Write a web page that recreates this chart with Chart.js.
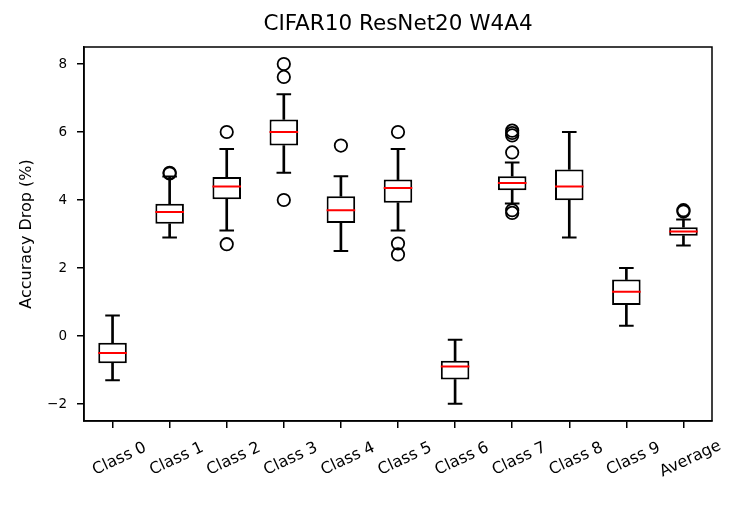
<!DOCTYPE html>
<html>
<head>
<meta charset="utf-8">
<script src="https://cdn.jsdelivr.net/npm/chart.js@4.4.1/dist/chart.umd.min.js"></script>
<style>
html,body{margin:0;padding:0;background:#fff;}
#wrap{width:748px;height:510px;}
</style>
</head>
<body>
<div id="wrap"><canvas id="c" width="748" height="510"></canvas></div>
<script>
// ---- data ----
const categories = ['Class 0','Class 1','Class 2','Class 3','Class 4','Class 5','Class 6','Class 7','Class 8','Class 9','Average'];
const whiskerLow  = [-1.30, 2.90, 3.10, 4.80, 2.50, 3.10, -1.99, 3.90, 2.90, 0.30, 2.66];
const q1          = [-0.80, 3.30, 4.02, 5.60, 3.32, 3.92, -1.28, 4.29, 3.99, 0.91, 2.95];
const median      = [-0.50, 3.65, 4.40, 6.00, 3.70, 4.35, -0.90, 4.50, 4.40, 1.30, 3.07];
const q3          = [-0.20, 3.89, 4.68, 6.37, 4.11, 4.60, -0.73, 4.70, 4.90, 1.66, 3.20];
const whiskerHigh = [ 0.60, 4.69, 5.50, 7.11, 4.70, 5.50, -0.11, 5.10, 6.00, 2.00, 3.43];
const outliers = [
  [],
  [4.80, 4.78],
  [6.00, 2.70],
  [8.00, 7.62, 4.00],
  [5.60],
  [6.00, 2.72, 2.40],
  [],
  [6.04, 5.97, 5.90, 5.40, 3.70, 3.62],
  [],
  [],
  [3.70, 3.66]
];
const yTicks = [-2, 0, 2, 4, 6, 8];
const yRange = [-2.5, 8.5];
const titleText = 'CIFAR10 ResNet20 W4A4';
const yLabel = 'Accuracy Drop (%)';

// ---- build datasets ----
const FONT = "'DejaVu Sans', 'Liberation Sans', sans-serif";
const outlierPoints = [];
outliers.forEach((arr, i) => arr.forEach(v => outlierPoints.push({x: categories[i], y: v})));

const frame = {
  id: 'frame',
  afterDraw(chart) {
    const {ctx, chartArea: a, scales} = chart;
    ctx.save();
    ctx.strokeStyle = '#000';
    ctx.lineWidth = 1.5;
    ctx.strokeRect(a.left, a.top, a.right - a.left, a.bottom - a.top);
    ctx.fillStyle = '#000';
    // title centred over the plot area
    ctx.font = '21.5px ' + FONT;
    ctx.textAlign = 'center';
    ctx.textBaseline = 'middle';
    ctx.fillText(titleText, (a.left + a.right) / 2, 24);
    // rotated, centred category labels (matplotlib style)
    const xs = scales.x;
    ctx.font = '16px ' + FONT;
    const ang = -25 * Math.PI / 180;
    categories.forEach((lab, i) => {
      const x = xs.getPixelForTick(i) + 7;
      const y = a.bottom + 38;
      ctx.save();
      ctx.translate(x, y);
      ctx.rotate(ang);
      ctx.fillText(lab, 0, 0);
      ctx.restore();
    });
    ctx.restore();
  }
};

new Chart(document.getElementById('c'), {
  type: 'bar',
  data: {
    labels: categories,
    datasets: [
      { type: 'line', label: 'median', data: median, showLine: false, order: 0,
        pointStyle: 'line', pointRadius: 14.3, pointHoverRadius: 14.3,
        pointBorderColor: '#ff0000', pointBorderWidth: 2 },
      { type: 'line', label: 'capLow', data: whiskerLow, showLine: false, order: 1,
        pointStyle: 'line', pointRadius: 7.3, pointHoverRadius: 7.3,
        pointBorderColor: '#000', pointBorderWidth: 2 },
      { type: 'line', label: 'capHigh', data: whiskerHigh, showLine: false, order: 1,
        pointStyle: 'line', pointRadius: 7.3, pointHoverRadius: 7.3,
        pointBorderColor: '#000', pointBorderWidth: 2 },
      { type: 'line', label: 'outliers', data: outlierPoints, showLine: false, order: 1,
        pointStyle: 'circle', pointRadius: 6.2, pointHoverRadius: 6.2,
        pointBorderColor: '#000', pointBackgroundColor: 'rgba(0,0,0,0)', pointBorderWidth: 1.8 },
      { type: 'bar', label: 'box', data: categories.map((c, i) => [q1[i], q3[i]]), order: 2,
        grouped: false, barPercentage: 0.5, categoryPercentage: 1.0,
        backgroundColor: '#ffffff', borderColor: '#000', borderWidth: 2, borderSkipped: false },
      { type: 'bar', label: 'whiskerLow', data: categories.map((c, i) => [whiskerLow[i], q1[i]]), order: 3,
        grouped: false, barThickness: 2, backgroundColor: '#000', borderWidth: 0 },
      { type: 'bar', label: 'whiskerHigh', data: categories.map((c, i) => [q3[i], whiskerHigh[i]]), order: 3,
        grouped: false, barThickness: 2, backgroundColor: '#000', borderWidth: 0 }
    ]
  },
  options: {
    responsive: false,
    devicePixelRatio: 1,
    animation: false,
    events: [],
    layout: { padding: { left: 0, right: 36, top: 47, bottom: 0 } },
    plugins: {
      legend: { display: false },
      tooltip: { enabled: false },
      title: { display: false }
    },
    scales: {
      x: {
        type: 'category', offset: true,
        grid: { offset: false, drawOnChartArea: false, drawTicks: true, tickLength: 7, color: '#000', lineWidth: 1.5 },
        border: { display: true, color: '#000', width: 1.5 },
        ticks: { display: false },
        afterFit(s) { s.height = 89; }
      },
      y: {
        type: 'linear', min: yRange[0], max: yRange[1],
        afterBuildTicks(s) { s.ticks = yTicks.map(v => ({ value: v })); },
        grid: { drawOnChartArea: false, drawTicks: true, tickLength: 7, color: '#000', lineWidth: 1.5 },
        border: { display: true, color: '#000', width: 1.5 },
        ticks: {
          color: '#000', padding: 10,
          font: { family: FONT, size: 13.5 },
          callback: v => (v < 0 ? '\u2212' + Math.abs(v) : String(v))
        },
        title: {
          display: true, text: yLabel, color: '#000',
          font: { family: FONT, size: 16, lineHeight: 1.2 },
          padding: { top: 17, bottom: 0 }
        },
        afterFit(s) { s.width = 84; }
      }
    }
  },
  plugins: [frame]
});
</script>
</body>
</html>
